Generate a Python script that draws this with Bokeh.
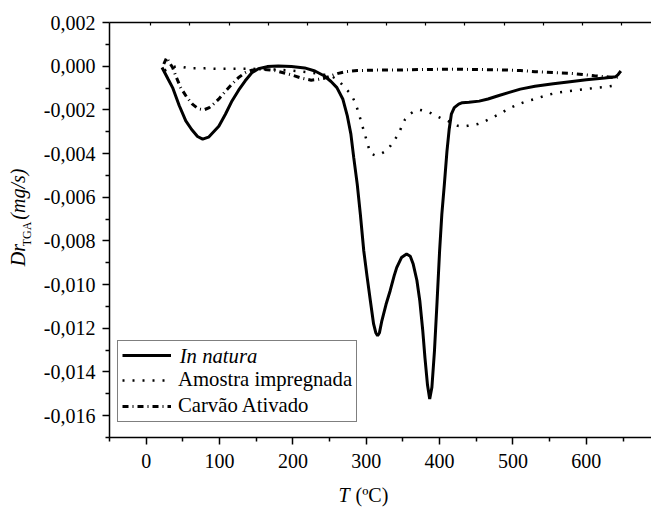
import math
from bokeh.plotting import figure
from bokeh.layouts import row, column
from bokeh.models import (Range1d, LinearAxis, FixedTicker, Legend, LegendItem,
                          Label, CustomJSTickFormatter)
from bokeh.embed import file_html
from bokeh.resources import INLINE

# ---------------- data ----------------
T_natura = [21.6, 30, 36, 45, 54, 62, 70, 77, 85, 92, 99, 108, 117, 126, 135, 144, 153, 165,
            180, 198, 216, 230, 243, 252, 260, 268, 274, 279, 283, 287.7, 292, 296.6, 301,
            305.6, 310, 313, 315.5, 318, 321, 327, 332.6, 338, 341.5, 348, 355, 360, 364, 369,
            373, 377, 380, 383.5, 386.5, 389.5, 393, 396.5, 400, 403, 406.5, 410, 413, 416,
            420, 426, 431, 440, 454, 466, 481, 495, 510, 530, 555, 575, 600, 625, 640, 643, 647]
V_natura = [-0.00006, -0.0006, -0.00098, -0.0018, -0.0025, -0.0029, -0.00322, -0.00334,
            -0.00325, -0.0030, -0.00275, -0.0022, -0.00159, -0.0011, -0.00067, -0.0003,
            -0.00012, -0.00002, 0.00001, -0.00001, -0.00008, -0.00022, -0.00045, -0.0007,
            -0.00098, -0.0015, -0.00225, -0.0031, -0.0042, -0.0054, -0.0068, -0.00845, -0.0096,
            -0.01074, -0.0118, -0.0122, -0.01234, -0.0122, -0.0117, -0.0109, -0.01028, -0.0096,
            -0.00922, -0.00876, -0.0086, -0.0087, -0.00906, -0.0098, -0.01074, -0.0121,
            -0.01334, -0.0146, -0.01524, -0.0147, -0.01303, -0.0108, -0.00845, -0.0068,
            -0.0054, -0.0039, -0.0029, -0.0022, -0.0019, -0.00174, -0.00167, -0.00165,
            -0.0016, -0.0015, -0.00134, -0.0012, -0.00105, -0.00092, -0.0008, -0.00072,
            -0.00062, -0.00054, -0.00048, -0.0004, -0.00022]

T_impreg = [25, 35, 43, 60, 80, 100, 120, 140, 160, 180, 198, 212, 225, 240, 252, 260, 266,
            272, 279, 284, 288, 291, 294, 297, 300, 303, 306, 312, 319, 326, 333, 338, 344,
            349, 353, 359, 366, 373, 380, 388, 395, 403, 411, 418, 425, 432, 438, 445, 452,
            460, 467, 474, 481, 489, 497, 507, 517, 525, 533, 548, 560, 571, 585, 598, 612,
            627, 636, 643]
V_impreg = [-0.0002, -0.00005, 0.0, -0.0001, -0.0001, -0.00012, -0.00012, -0.00012, -0.00013,
            -0.00016, -0.0002, -0.00025, -0.0003, -0.00037, -0.00045, -0.0006, -0.0008,
            -0.00103, -0.00128, -0.0016, -0.00197, -0.0023, -0.00265, -0.003, -0.00334,
            -0.0037, -0.004, -0.00408, -0.00403, -0.0039, -0.00365, -0.0034, -0.00311,
            -0.0027, -0.00243, -0.0022, -0.00205, -0.002, -0.00205, -0.00215, -0.00227,
            -0.0024, -0.0025, -0.00262, -0.00273, -0.00276, -0.00273, -0.0027, -0.00265,
            -0.00255, -0.00243, -0.00232, -0.0022, -0.00205, -0.0019, -0.00175, -0.00162,
            -0.00155, -0.00147, -0.00131, -0.00122, -0.00116, -0.0011, -0.00105, -0.001,
            -0.00095, -0.0009, -0.00075]

T_carvao = [24, 28, 31, 36, 41, 47, 55, 63, 71, 78.6, 86, 93, 98.8, 108, 117, 126, 135, 144,
            153, 165, 175, 187, 198, 212, 225, 235, 243, 252, 260.6, 272, 287.7, 310, 328,
            350, 380, 418, 450, 485, 510, 530, 555, 575, 595, 611, 625, 638, 645]
V_carvao = [0.0001, 0.0004, 0.0002, -0.00006, -0.0005, -0.00098, -0.0014, -0.00174, -0.00195,
            -0.002, -0.0019, -0.0017, -0.00151, -0.00115, -0.00082, -0.00052, -0.0003,
            -0.00018, -0.00014, -0.00016, -0.0002, -0.0003, -0.0004, -0.00055, -0.00064,
            -0.0006, -0.00055, -0.00044, -0.00034, -0.00025, -0.0002, -0.00018, -0.00018,
            -0.00017, -0.00015, -0.00014, -0.00015, -0.00017, -0.0002, -0.00025, -0.00029,
            -0.00032, -0.00038, -0.00044, -0.00048, -0.00052, -0.0005]

series_names = ["In natura", "Amostra impregnada", "Carvão Ativado"]
x_major = [0, 100, 200, 300, 400, 500, 600]
x_minor = [-50, 50, 150, 250, 350, 450, 550, 650]
y_major = [0.002, 0.0, -0.002, -0.004, -0.006, -0.008, -0.010, -0.012, -0.014, -0.016]
y_minor = [0.001, -0.001, -0.003, -0.005, -0.007, -0.009, -0.011, -0.013, -0.015, -0.017]
top_ticks = list(range(1, 14))

# ---------------- layout (page pixels, origin top-left) ----------------
PAGE_W, PAGE_H = 651, 507
WL = 40                      # left strip holding the y-axis title
HM = 482                     # height of the main row
HB = PAGE_H - HM             # bottom strip holding the x-axis title
FL, FT, FB = 103, 22, 437    # frame left / top / bottom
FR = PAGE_W
XMIN, YMIN, YMAX = -50.0, -0.017, 0.002
XMAX = XMIN + (FR - FL) / 0.7417

FONT = "Liberation Serif"


def strip(w, h, y0):
    f = figure(width=w, height=h, x_range=Range1d(0, w), y_range=Range1d(y0 + h, y0),
               title=None, output_backend="svg", toolbar_location=None,
               x_axis_location=None, y_axis_location=None,
               min_border_left=0, min_border_right=0, min_border_top=0, min_border_bottom=0)
    f.grid.visible = False
    f.outline_line_color = None
    f.border_fill_color = "white"
    f.background_fill_color = "white"
    return f


p = figure(width=PAGE_W - WL, height=HM, x_range=Range1d(XMIN, XMAX),
           y_range=Range1d(YMIN, YMAX), title=None, output_backend="svg",
           toolbar_location=None,
           min_border_left=FL - WL, min_border_right=0, min_border_top=FT,
           min_border_bottom=HM - FB)
p.grid.visible = False
p.outline_line_color = None
p.background_fill_color = "white"
p.border_fill_color = "white"

for ax in (p.xaxis[0], p.yaxis[0]):
    ax.axis_line_width = 1.5
    ax.major_tick_line_width = 1.5
    ax.minor_tick_line_width = 1.5
    ax.major_tick_in = 0
    ax.major_tick_out = 7
    ax.minor_tick_in = 0
    ax.minor_tick_out = 4
    ax.major_label_text_font = FONT
    ax.major_label_text_font_size = "20px"
    ax.major_label_text_color = "black"
    ax.axis_line_color = "black"

p.xaxis[0].ticker = FixedTicker(ticks=x_major, minor_ticks=x_minor)
p.xaxis[0].major_label_standoff = 9
p.yaxis[0].ticker = FixedTicker(ticks=y_major, minor_ticks=y_minor)
p.yaxis[0].major_label_standoff = 7
p.yaxis[0].formatter = CustomJSTickFormatter(code="""
    if (Math.abs(tick) < 1e-9) { return "0,000"; }
    return tick.toFixed(3).replace(".", ",");
""")

# top axis (unlabelled, inward ticks, its own spacing)
p.extra_x_ranges = {"top": Range1d(-0.05, -0.05 + (FR - FL) / 39.7)}
top = LinearAxis(x_range_name="top", ticker=FixedTicker(ticks=top_ticks, minor_ticks=[]),
                 major_tick_in=3, major_tick_out=0, axis_line_width=1.5,
                 major_tick_line_width=1.2,
                 major_label_text_font_size="0px", major_label_standoff=0,
                 formatter=CustomJSTickFormatter(code="return '';"))
p.add_layout(top, "above")

# ---------------- curves ----------------
r1 = p.line(T_natura, V_natura, line_color="black", line_width=3)
r2 = p.line(T_impreg, V_impreg, line_color="black", line_width=2.5, line_dash="2 8")
r3 = p.line(T_carvao, V_carvao, line_color="black", line_width=3, line_dash="6 4 1 4")

legend = Legend(items=[LegendItem(label=" ", renderers=[r1]),
                       LegendItem(label=series_names[1], renderers=[r2]),
                       LegendItem(label=series_names[2], renderers=[r3])],
                location=(8, 15), padding=4, spacing=3, margin=0,
                glyph_width=49, glyph_height=20, label_height=20, label_standoff=7,
                label_text_font=FONT, label_text_font_size="20.7px",
                label_text_color="black",
                border_line_color="black", border_line_width=1,
                background_fill_alpha=0)
p.add_layout(legend)


def PX(px):
    return XMIN + (px - FL) * (XMAX - XMIN) / (FR - FL)


def PY(py):
    return YMAX - (py - FT) * (YMAX - YMIN) / (FB - FT)


# italic first legend entry (the legend box is transparent, so this shows through)
p.add_layout(Label(x=PX(174), y=PY(355), text=series_names[0], text_font=FONT,
                   text_font_size="20.7px", text_font_style="italic", text_color="black",
                   text_baseline="middle", text_align="left"))

# ---------------- y-axis title strip ----------------
pl = strip(WL, HM, 0)
ang = math.pi / 2
pl.add_layout(Label(x=17, y=283, text="Dr", angle=ang, text_font=FONT,
                    text_font_size="20px", text_font_style="italic", text_color="black",
                    text_baseline="middle", text_align="left"))
pl.add_layout(Label(x=26, y=260, text="TGA", angle=ang, text_font=FONT,
                    text_font_size="12px", text_color="black",
                    text_baseline="middle", text_align="left"))
pl.add_layout(Label(x=17, y=229, text="(mg/s)", angle=ang, text_font=FONT,
                    text_font_size="20px", text_font_style="italic", text_color="black",
                    text_baseline="middle", text_align="left"))

# ---------------- x-axis title strip ----------------
pb = strip(PAGE_W, HB, HM)
pb.add_layout(Label(x=338, y=494, text="T", text_font=FONT, text_font_size="20px",
                    text_font_style="italic", text_color="black",
                    text_baseline="middle", text_align="left"))
pb.add_layout(Label(x=355, y=494, text="(ºC)", text_font=FONT, text_font_size="20px",
                    text_color="black", text_baseline="middle", text_align="left"))

layout = column(row(pl, p, spacing=0), pb, spacing=0)

open("out.html", "w").write(file_html(layout, INLINE))
